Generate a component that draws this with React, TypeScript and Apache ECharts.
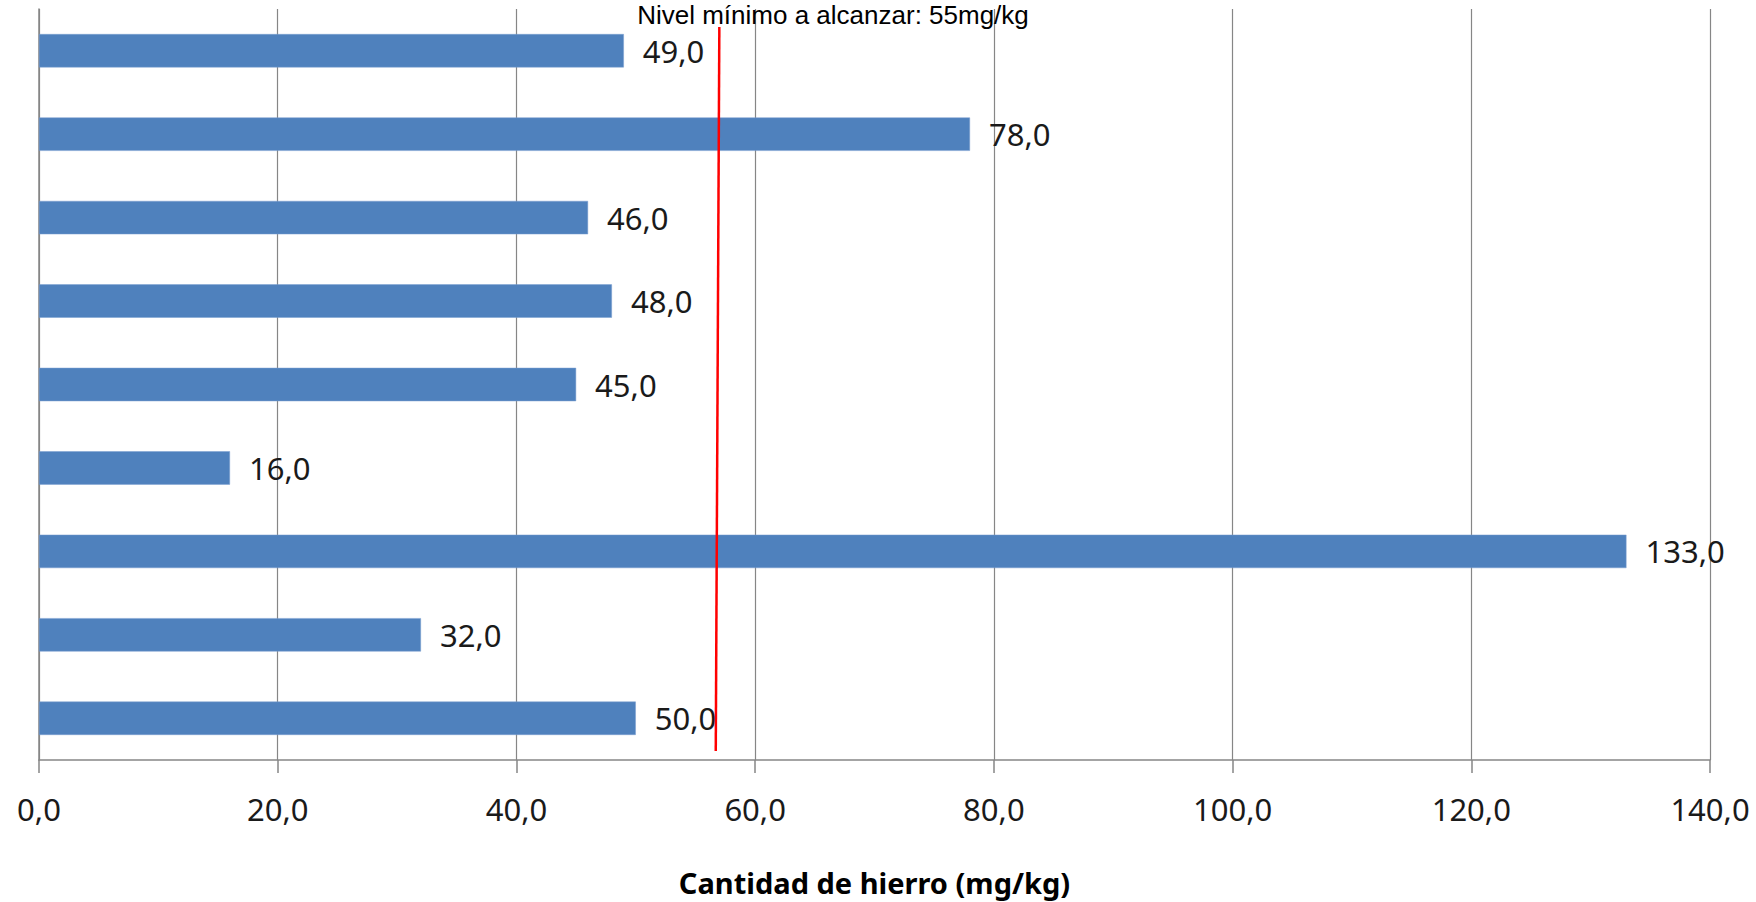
import React, { useEffect, useRef } from "react";
import * as echarts from "echarts";

const categories = ["1", "2", "3", "4", "5", "6", "7", "8", "9"];
const values = [49, 78, 46, 48, 45, 16, 133, 32, 50];
const xTicks = [0, 20, 40, 60, 80, 100, 120, 140];
const thresholdLine = [
  [57.0, 0.976],
  [56.7, 0.012],
];
const thresholdTitle = "Nivel mínimo a alcanzar: 55mg/kg";
const axisTitle = "Cantidad de hierro (mg/kg)";

const FONT = "'Noto Sans', 'Open Sans', sans-serif";
const TITLE_FONT = "'Liberation Sans', Arial, sans-serif";

export default function App() {
  const ref = useRef<HTMLDivElement>(null);
  useEffect(() => {
    if (!ref.current) return;
    const chart = echarts.init(ref.current, null, { renderer: "svg" });
    const fmt = (v: number) => v.toFixed(1).replace(".", ",");
    chart.setOption({
      animation: false,
      backgroundColor: "#ffffff",
      textStyle: { fontFamily: FONT },
      grid: { left: 39, right: 46, top: 9, bottom: 140, containLabel: false },
      xAxis: [
        {
          type: "value",
          min: xTicks[0],
          max: xTicks[xTicks.length - 1],
          interval: 20,
          axisLine: { show: true, lineStyle: { color: "#868686", width: 1.5 } },
          axisTick: { show: true, length: 13, lineStyle: { color: "#868686", width: 1.5 } },
          splitLine: { show: true, lineStyle: { color: "#868686", width: 1.2 } },
          axisLabel: {
            formatter: (v: number) => fmt(v),
            fontSize: 31,
            color: "#1a1a1a",
            margin: 33,
            fontFamily: FONT,
          },
          name: axisTitle,
          nameLocation: "middle",
          nameGap: 108,
          nameTextStyle: {
            fontSize: 29,
            fontWeight: "bold",
            color: "#000000",
            fontFamily: FONT,
            verticalAlign: "top",
          },
        },
      ],
      yAxis: [
        {
          type: "category",
          data: categories,
          inverse: true,
          axisLine: { show: true, lineStyle: { color: "#868686", width: 1.5 } },
          axisTick: { show: false },
          axisLabel: { show: false },
          splitLine: { show: false },
        },
        {
          type: "value",
          min: 0,
          max: 1,
          show: false,
        },
      ],
      series: [
        {
          type: "bar",
          data: values,
          yAxisIndex: 0,
          barCategoryGap: "60%",
          itemStyle: { color: "#4F81BD", borderColor: "#7a9fd0", borderWidth: 0.5 },
          label: {
            show: true,
            position: "right",
            distance: 19,
            formatter: (p: any) => fmt(p.value),
            fontSize: 31,
            color: "#1a1a1a",
            fontFamily: FONT,
          },
        },
        {
          type: "line",
          yAxisIndex: 1,
          data: thresholdLine,
          symbol: "none",
          lineStyle: { color: "#ff0000", width: 2.5 },
          z: 5,
        },
      ],
      graphic: [
        {
          type: "text",
          x: 833,
          y: 0,
          z: 10,
          style: {
            text: thresholdTitle,
            fontSize: 26,
            lineHeight: 29,
            align: "center",
            verticalAlign: "top",
            fill: "#000000",
            fontFamily: TITLE_FONT,
          },
        },
      ],
    });
    return () => chart.dispose();
  }, []);
  return (
    <div
      ref={ref}
      style={{ position: "fixed", left: 0, top: 0, width: 1756, height: 902, background: "#fff" }}
    />
  );
}
